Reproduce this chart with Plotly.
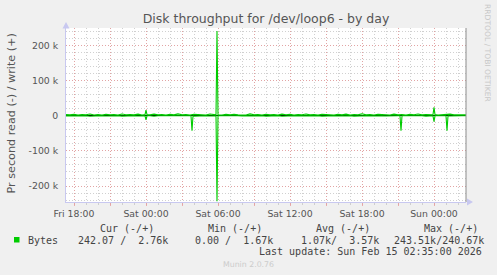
import pandas as pd
import plotly.graph_objects as go

# ---------------- data ----------------
start = pd.Timestamp("2026-02-13 17:20")
end = pd.Timestamp("2026-02-15 02:40")

# baseline samples every 20 minutes (minutes from start), values in kB/s
base_minutes = list(range(0, 2001, 20))
write_base_k = [
    3.1, 2.4, 4.2, 2.0, 3.5, 2.8, 4.8, 2.2, 3.0, 1.9, 4.1, 2.6, 3.3, 2.1, 5.0, 2.9, 3.6, 2.3, 4.4, 2.0,
    3.2, 2.7, 4.6, 2.5, 3.0, 1.8, 3.9, 2.4, 5.2, 2.8, 3.4, 2.2, 4.0, 2.6, 3.1, 1.9, 4.7, 2.5, 3.3, 2.1,
    3.8, 2.9, 4.3, 2.3, 3.0, 2.0, 5.1, 2.7, 3.5, 2.2, 4.1, 2.4, 3.2, 1.8, 4.5, 2.6, 3.7, 2.1, 3.0, 2.8,
    4.9, 2.3, 3.4, 2.0, 4.2, 2.7, 3.1, 1.9, 3.8, 2.5, 4.6, 2.2, 3.3, 2.6, 5.3, 2.4, 3.0, 2.1, 4.0, 2.8,
    3.6, 2.0, 4.4, 2.5, 3.2, 1.7, 3.9, 2.6, 4.8, 2.3, 3.5, 2.9, 4.1, 2.2, 3.0, 2.7, 4.5, 2.4, 3.3, 2.8, 2.76,
]
read_base_k = [
    0.4, 0.0, 1.2, 0.2, 0.8, 0.0, 1.5, 0.3, 0.6, 0.0, 1.0, 0.2, 0.5, 0.0, 1.3, 0.4, 0.7, 0.0, 0.9, 0.1,
    0.6, 0.0, 1.4, 0.3, 0.5, 0.0, 1.1, 0.2, 0.8, 0.0, 0.4, 0.1, 1.2, 0.3, 0.6, 0.0, 1.0, 0.2, 0.7, 0.0,
    0.5, 0.1, 1.3, 0.2, 0.4, 0.0, 0.9, 0.3, 0.6, 0.0, 1.1, 0.2, 0.5, 0.0, 1.4, 0.3, 0.8, 0.0, 0.6, 0.1,
    1.0, 0.2, 0.4, 0.0, 1.2, 0.3, 0.7, 0.0, 0.9, 0.1, 0.5, 0.0, 1.3, 0.2, 0.6, 0.0, 1.0, 0.3, 0.4, 0.1,
    0.8, 0.0, 1.1, 0.2, 0.5, 0.0, 0.9, 0.3, 0.7, 0.0, 1.2, 0.2, 0.4, 0.0, 0.6, 0.1, 1.0, 0.2, 0.5, 0.3, 0.242,
]
# spikes at 5-minute resolution (minute offset: kB/s)
write_spikes_k = {395: 3.0, 400: 16.0, 405: 3.0,
                  750: 2.5, 755: 240.67, 760: 2.8,
                  1835: 2.9, 1840: 24.0, 1845: 3.0}
read_spikes_k = {395: 0.3, 400: 12.0, 405: 0.3,
                 625: 0.2, 630: 43.0, 635: 0.2,
                 750: 0.2, 755: 243.51, 760: 0.3,
                 1670: 0.2, 1675: 43.0, 1680: 0.2,
                 1835: 0.3, 1840: 17.0, 1845: 0.3,
                 1900: 0.2, 1905: 43.0, 1910: 0.2}

tick_times = ["2026-02-13 18:00", "2026-02-13 21:00", "2026-02-14 00:00", "2026-02-14 03:00",
              "2026-02-14 06:00", "2026-02-14 09:00", "2026-02-14 12:00", "2026-02-14 15:00",
              "2026-02-14 18:00", "2026-02-14 21:00", "2026-02-15 00:00"]
tick_labels = ["Fri 18:00", "", "Sat 00:00", "", "Sat 06:00", "", "Sat 12:00", "",
               "Sat 18:00", "", "Sun 00:00"]
y_tick_vals = [-200000, -100000, 0, 100000, 200000]
y_tick_text = ["-200 k", "-100 k", "0", "100 k", "200 k"]

legend_headers = ["Cur (-/+)", "Min (-/+)", "Avg (-/+)", "Max (-/+)"]
legend_values = ["242.07 /  2.76k", "0.00 /  1.67k", "1.07k/  3.57k", "243.51k/240.67k"]
series_name = "Bytes"
last_update = "Last update: Sun Feb 15 02:35:00 2026"
title_text = "Disk throughput for /dev/loop6 - by day"
y_title = "Pr second read (-) / write (+)"


def build(base_vals, spikes):
    d = dict(zip(base_minutes, base_vals))
    d.update(spikes)
    mins = sorted(d)
    t = [start + pd.Timedelta(minutes=m) for m in mins]
    v = [d[m] * 1000 for m in mins]
    return t, v


tw, vw = build(write_base_k, write_spikes_k)
tr, vr = build(read_base_k, read_spikes_k)
vr = [-v for v in vr]

GREEN = "#00CC00"
fig = go.Figure()
fig.add_trace(go.Scatter(x=tr, y=vr, mode="lines", line=dict(color=GREEN, width=1.1),
                         showlegend=False, hoverinfo="skip"))
fig.add_trace(go.Scatter(x=tw, y=vw, mode="lines", line=dict(color=GREEN, width=1.1),
                         showlegend=False, hoverinfo="skip"))

# ---------------- layout ----------------
W, H = 497, 275
L, R, T, B = 66, 31, 28, 73
PW, PH = W - L - R, H - T - B


def px(x):
    return (x - L) / PW


def py(y):
    return (H - B - y) / PH


MAJOR = "rgba(232,150,150,0.75)"
MINOR = "rgba(200,200,200,0.85)"
AXIS = "#C8C8F0"
TXT = "#555555"

fig.update_layout(
    width=W, height=H,
    margin=dict(l=L, r=R, t=T, b=B, pad=0),
    paper_bgcolor="#F0F0F0",
    plot_bgcolor="#FFFFFF",
    font=dict(family="DejaVu Sans", size=9.33, color=TXT),
    title=dict(text=title_text, x=0.5, xref="paper", xanchor="center",
               y=1 - 19 / H, yref="container", yanchor="middle",
               font=dict(family="DejaVu Sans", size=12.5, color="#555555")),
    xaxis=dict(
        type="date",
        range=[start, end],
        tickmode="array", tickvals=tick_times, ticktext=tick_labels,
        showgrid=True, gridcolor=MAJOR, griddash="1px,2px", gridwidth=1,
        ticks="outside", ticklen=3, tickcolor=MAJOR, tickwidth=1,
        minor=dict(tickmode="linear", tick0="2026-02-13 18:00", dtick=3600000,
                   showgrid=True, gridcolor=MINOR, griddash="1px,2px", gridwidth=1,
                   ticks="outside", ticklen=2, tickcolor=MINOR),
        showline=True, linecolor=AXIS, linewidth=1,
        zeroline=False, fixedrange=True,
        tickfont=dict(size=9.33, color=TXT),
    ),
    yaxis=dict(
        range=[-245500, 249500],
        tickmode="array", tickvals=y_tick_vals, ticktext=y_tick_text,
        showgrid=True, gridcolor=MAJOR, griddash="1px,2px", gridwidth=1,
        minor=dict(tickmode="linear", tick0=0, dtick=20000,
                   showgrid=True, gridcolor=MINOR, griddash="1px,2px", gridwidth=1),
        ticks="", ticklabelstandoff=5,
        showline=True, linecolor=AXIS, linewidth=1,
        zeroline=True, zerolinecolor="#000000", zerolinewidth=1,
        fixedrange=True,
        tickfont=dict(size=9.33, color=TXT),
    ),
)

shapes = [
    # right border line
    dict(type="line", xref="paper", yref="paper", x0=1, x1=1, y0=0, y1=1,
         line=dict(color="#8C8C8C", width=1)),
    # y-axis arrow
    dict(type="path", xref="paper", yref="paper",
         path=f"M {px(66)} {py(22)} L {px(62.5)} {py(28.5)} L {px(69.5)} {py(28.5)} Z",
         fillcolor=AXIS, line=dict(width=0)),
    # x-axis arrow
    dict(type="path", xref="paper", yref="paper",
         path=f"M {px(473)} {py(202)} L {px(467)} {py(198.5)} L {px(467)} {py(205.5)} Z",
         fillcolor=AXIS, line=dict(width=0)),
    # legend colour square
    dict(type="rect", xref="paper", yref="paper",
         x0=px(14), x1=px(19.5), y0=py(242.5), y1=py(237), fillcolor=GREEN, line=dict(width=0)),
]
fig.update_layout(shapes=shapes)

MONO = "DejaVu Sans Mono"
LEG = "#444444"


def nb(s):
    return s.replace(" ", "\u00a0")


ann = []
ann.append(dict(text=y_title, x=px(11.5), y=py(114), xref="paper", yref="paper",
                textangle=-90, showarrow=False, xanchor="center", yanchor="middle",
                font=dict(family="DejaVu Sans", size=11.2, color=TXT)))
ann.append(dict(text="RRDTOOL / TOBI OETIKER", x=px(488), y=py(53), xref="paper", yref="paper",
                textangle=90, showarrow=False, xanchor="center", yanchor="middle",
                font=dict(family="DejaVu Sans", size=7.6, color="#C8C8C8")))
header_x = [98.7, 206.7, 315, 423]
value_x = [77.3, 194.3, 300, 392.7]
for hx, h in zip(header_x, legend_headers):
    ann.append(dict(text=nb(h), x=px(hx), y=py(228), xref="paper", yref="paper",
                    showarrow=False, xanchor="left", yanchor="middle",
                    font=dict(family=MONO, size=10, color=LEG)))
for vx, v in zip(value_x, legend_values):
    ann.append(dict(text=nb(v), x=px(vx), y=py(240), xref="paper", yref="paper",
                    showarrow=False, xanchor="left", yanchor="middle",
                    font=dict(family=MONO, size=10, color=LEG)))
ann.append(dict(text=series_name, x=px(26.7), y=py(240), xref="paper", yref="paper",
                showarrow=False, xanchor="left", yanchor="middle",
                font=dict(family=MONO, size=10, color=LEG)))
ann.append(dict(text=nb(last_update), x=px(482.5), y=py(251.3), xref="paper", yref="paper",
                showarrow=False, xanchor="right", yanchor="middle",
                font=dict(family=MONO, size=10, color=LEG)))
ann.append(dict(text="Munin 2.0.76", x=px(248), y=py(264.5), xref="paper", yref="paper",
                showarrow=False, xanchor="center", yanchor="middle",
                font=dict(family="DejaVu Sans", size=7.8, color="#CCCCCC")))
for a in ann:
    a["borderpad"] = 0
fig.update_layout(annotations=ann)

fig.write_html("out.html", config={"displayModeBar": False})
